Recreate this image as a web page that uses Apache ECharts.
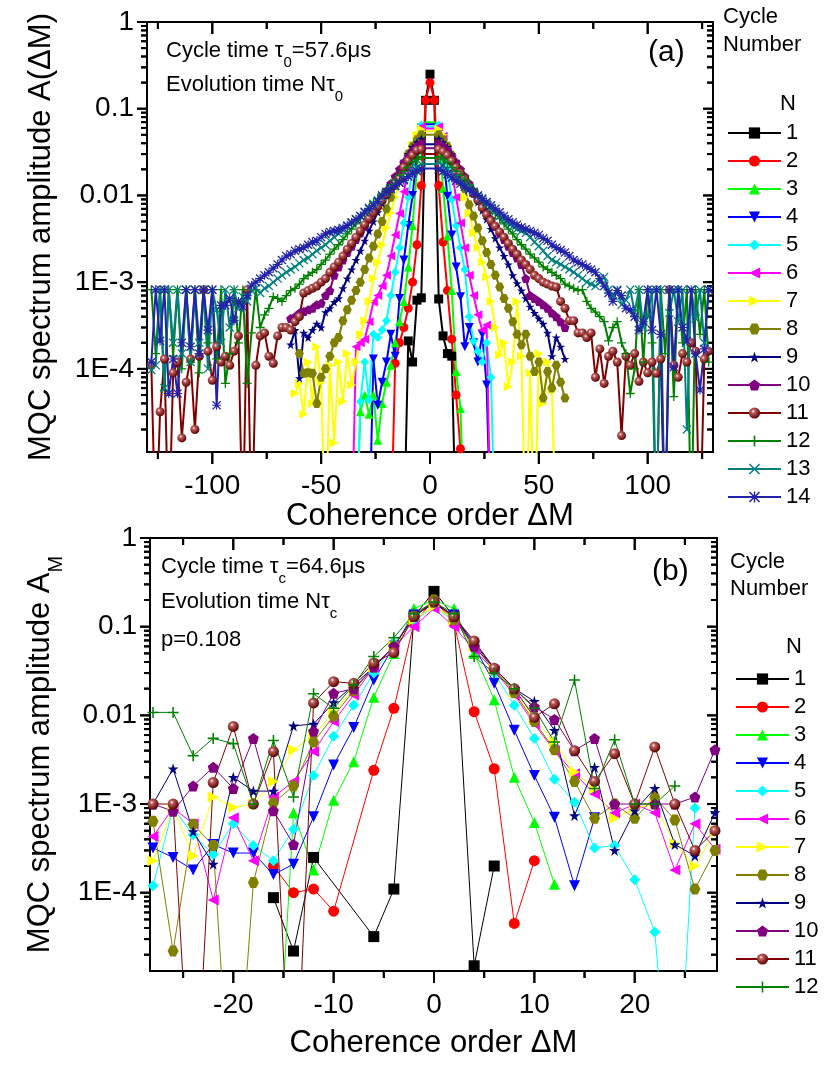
<!DOCTYPE html>
<html>
<head>
<meta charset="utf-8">
<script src="https://cdn.jsdelivr.net/npm/echarts@6/dist/echarts.min.js"></script>
<style>
html, body { margin: 0; padding: 0; background: #fff; }
#chart { width: 830px; height: 1075px; }
</style>
</head>
<body>
<div id="chart"></div>
<script>
const FONT = '"Liberation Sans", Arial, sans-serif';

// ---------- panel (a): wings listed from |dM| = 2 outward ----------
const centerA = [0.25, 0.2, 0.07, 0.066, 0.062, 0.059, 0.055, 0.05, 0.039, 0.035, 0.03, 0.027, 0.023, 0.0205];

const a1Left = [0.125, 6.6e-4, 6.2e-4, 1.2e-4, 2.1e-4, 1e-6];
const a1Right = [0.125, 6.4e-4, 2.4e-4, 1.5e-4, 1.4e-4, 1e-6];
const a2Left = [0.125, 0.013, 2.7e-3, 1e-3, 5e-4, 3e-4, 2e-4, 1.16e-4, 1e-6];
const a2Right = [0.125, 0.013, 2.9e-3, 8e-4, 2.2e-4, 5e-5, 1.2e-5, 1e-6];
const a3Left = [0.07, 0.055, 0.02, 4.5e-3, 1.5e-3, 6e-4, 3.5e-4, 2e-4, 1.1e-4, 7e-5, 4e-5, 1.5e-5, 5e-5, 3e-5, 5e-5, 3.2e-5, 1e-6];
const a3Right = [0.07, 0.055, 0.012, 3.4e-3, 8e-4, 9.3e-5, 3.5e-5, 1e-6];
const a4Left = [0.066, 0.06, 0.03, 0.01, 4.5e-3, 1.8e-3, 6.5e-4, 1.4e-4, 2.5e-4, 1.2e-4, 7e-5, 3.8e-5, 1.3e-4, 1e-6];
const a4Right = [0.066, 0.06, 0.03, 9.8e-3, 3.5e-3, 1.5e-3, 6.8e-4, 1.8e-4, 3e-4, 2e-4, 1.2e-4, 2.5e-4, 6.5e-5, 1e-6];
const a5Left = [0.062, 0.065, 0.04, 0.02, 9.5e-3, 4.8e-3, 2.5e-3, 1.3e-3, 7e-4, 3.6e-4, 2.8e-4, 2.3e-4, 2.5e-4, 4.4e-5, 1.2e-4, 4.2e-5, 1e-6];
const a5Right = [0.062, 0.065, 0.04, 0.02, 9e-3, 4.5e-3, 2.5e-3, 1.4e-3, 4e-4, 2.1e-4, 1.6e-4, 1.2e-4, 2e-4, 8e-5, 1e-6];
const a6Left = [0.059, 0.062, 0.048, 0.032, 0.02, 0.011, 6.2e-3, 3.5e-3, 2e-3, 1.2e-3, 9e-4, 7e-4, 5.9e-4, 3.5e-4, 2.2e-4, 2e-4, 1.8e-4, 1e-6];
const a6Right = [0.059, 0.062, 0.048, 0.032, 0.019, 9.5e-3, 4.8e-3, 2.5e-3, 1.2e-3, 7e-4, 4.2e-4, 2.8e-4, 3.2e-4, 1e-6];
const a7Left = [0.055, 0.058, 0.05, 0.038, 0.028, 0.02, 0.014, 9.5e-3, 6.3e-3, 4.2e-3, 2.7e-3, 1.7e-3, 1.1e-3, 6e-4, 3.6e-4, 2.5e-4,
  1.2e-4, 6.5e-5, 1.5e-4, 4.2e-5, 1.2e-4, 1.4e-5, 1.1e-4, 1e-6, 7e-5, 1.8e-4, 4e-5, 1.2e-4, 3e-5, 6.8e-5, 5.2e-5];
const a7Right = [0.055, 0.058, 0.05, 0.038, 0.028, 0.02, 0.014, 9.5e-3, 6.2e-3, 3.7e-3, 2.5e-3, 1.7e-3, 1.15e-3, 6e-4, 3e-4, 1.45e-4,
  2e-4, 6.2e-5, 1.2e-4, 6e-4, 1.4e-4, 1e-6, 9e-5, 1e-6, 1.5e-4, 4e-5, 1.2e-4, 5.7e-5, 1e-6];
const a8Left = [0.05, 0.05, 0.044, 0.037, 0.03, 0.023, 0.0175, 0.013, 9.5e-3, 7e-3, 5e-3, 3.6e-3, 2.6e-3, 1.9e-3, 1.4e-3, 1e-3,
  8e-4, 6.2e-4, 4.8e-4, 3.6e-4, 2.3e-4, 2e-4, 1.4e-4, 1e-4, 8e-5, 4e-5, 8.9e-5, 9e-5, 8.9e-5, 1.5e-4];
const a8Right = [0.05, 0.05, 0.044, 0.037, 0.029, 0.022, 0.0165, 0.012, 7.8e-3, 5.8e-3, 4.2e-3, 3e-3, 2.2e-3, 1.6e-3, 1.2e-3, 8.8e-4,
  6.5e-4, 5e-4, 3.5e-4, 2.5e-4, 1.9e-4, 2.5e-4, 1.4e-4, 9.3e-5, 1.2e-4, 4.6e-5, 9.3e-5, 6e-5, 1.1e-4, 7e-5, 4.6e-5];
const a9Left = [0.039, 0.045, 0.041, 0.036, 0.03, 0.025, 0.02, 0.016, 0.0128, 0.0102, 8.1e-3, 6.4e-3, 5e-3, 3.9e-3, 3e-3, 2.3e-3,
  1.8e-3, 1.4e-3, 1.1e-3, 8.5e-4, 6.5e-4, 5.9e-4, 5e-4, 4.5e-4, 3e-4, 3.3e-4, 2.8e-4, 2.3e-4, 2.6e-4, 7.8e-5, 2.8e-4, 1.9e-4];
const a9Right = [0.039, 0.045, 0.041, 0.036, 0.03, 0.025, 0.02, 0.016, 0.013, 0.0105, 8.4e-3, 6.7e-3, 5.3e-3, 4.1e-3, 3.2e-3, 2.5e-3,
  2e-3, 1.6e-3, 1.2e-3, 9.7e-4, 8e-4, 6.5e-4, 5.2e-4, 4.4e-4, 3.8e-4, 3.3e-4, 2.6e-4, 1.4e-4, 2.3e-4, 1.8e-4, 1.3e-4];
const a10Left = [0.035, 0.04, 0.037, 0.033, 0.028, 0.024, 0.02, 0.0165, 0.0137, 0.0113, 9.3e-3, 7.7e-3, 6.4e-3, 5.3e-3, 4.4e-3, 3.7e-3,
  3.1e-3, 2.6e-3, 2.2e-3, 1.8e-3, 1.5e-3, 1.2e-3, 8e-4, 7e-4, 5.7e-4, 5.5e-4, 5e-4, 4.8e-4, 4.6e-4, 4.4e-4, 4e-4, 3.8e-4];
const a10Right = [0.035, 0.04, 0.037, 0.033, 0.028, 0.024, 0.02, 0.0165, 0.0137, 0.0113, 9.3e-3, 7.7e-3, 6.4e-3, 5.3e-3, 4.4e-3, 3.7e-3,
  3.1e-3, 2.6e-3, 2.2e-3, 1.9e-3, 1.6e-3, 1.1e-3, 7e-4, 6.5e-4, 6e-4, 5.5e-4, 5e-4, 4.4e-4, 4e-4, 3.5e-4, 3e-4];
const a11Left = [0.03, 0.034, 0.033, 0.029, 0.025, 0.021, 0.0156, 0.014, 0.012, 0.0102, 8.7e-3, 7.4e-3, 6.3e-3, 5.4e-3, 4.6e-3, 3.9e-3,
  3.3e-3, 2.8e-3, 2.4e-3, 2e-3, 1.7e-3, 1.5e-3, 1.3e-3, 1.1e-3, 1e-3, 9e-4, 8.5e-4, 8e-4, 7.5e-4, 4e-4, 3.5e-4, 2.8e-4,
  3e-4, 3e-4, 2.4e-4, 1.16e-4, 1.4e-4, 2.6e-4, 2.4e-4, 1.1e-4, 1e-6, 8.2e-4, 1e-6, 2.4e-4, 1.6e-4, 1.1e-4, 1.4e-4, 1.2e-4,
  1.8e-4, 7.4e-5, 1.6e-4, 8.2e-4, 1.4e-4, 2e-5, 1.3e-4, 7e-5, 1.6e-5, 1.2e-4, 9e-5, 1e-6, 1.3e-4, 3.2e-5, 1e-6, 1.1e-4];
const a11Right = [0.03, 0.034, 0.032, 0.029, 0.025, 0.021, 0.018, 0.0155, 0.0125, 0.0105, 8.8e-3, 7.2e-3, 6e-3, 5.1e-3, 4.4e-3, 3.8e-3,
  3.3e-3, 2.8e-3, 2.4e-3, 2.1e-3, 1.8e-3, 1.6e-3, 1.4e-3, 1.2e-3, 1.1e-3, 1e-3, 9.5e-4, 9e-4, 8.8e-4, 6e-4, 5e-4, 3.6e-4,
  3.6e-4, 2.6e-4, 2.6e-4, 2.3e-4, 2.6e-4, 8e-5, 1.7e-4, 6.8e-5, 1.4e-4, 1.6e-4, 1.2e-4, 1.7e-5, 1.4e-4, 1.1e-4, 1.5e-4, 7.2e-5,
  1.2e-4, 9e-5, 1.2e-4, 8.9e-5, 1.3e-4, 1e-6, 8.2e-4, 1.1e-4, 8e-5, 1.5e-4, 1.2e-4, 2e-4, 1.6e-4, 1e-6, 1.3e-4, 1.6e-4];
const a12Left = [0.027, 0.028, 0.026, 0.024, 0.021, 0.019, 0.017, 0.015, 0.0133, 0.0118, 0.0104, 9.2e-3, 8.1e-3, 7.1e-3, 6.2e-3, 5.4e-3,
  4.7e-3, 4.1e-3, 3.6e-3, 3.1e-3, 2.7e-3, 2.4e-3, 2.1e-3, 1.8e-3, 1.6e-3, 1.4e-3, 1.3e-3, 1.2e-3, 1.1e-3, 9.5e-4, 8.5e-4, 8e-4,
  7e-4, 6e-4, 6.5e-4, 6.8e-4, 5e-4, 4.2e-4, 3e-4, 8.2e-4, 2.6e-4, 6.8e-5, 8.2e-4, 2e-4, 8.2e-4, 1.5e-4, 6.8e-5, 8.2e-4,
  1.3e-4, 8.2e-4, 2e-4, 8.2e-4, 9e-5, 8.2e-4, 1.2e-4, 8.2e-4, 1e-4, 8.2e-4, 1.4e-4, 8.2e-4, 5.7e-5, 8.2e-4, 1.5e-4, 8.2e-4];
const a12Right = [0.027, 0.028, 0.026, 0.024, 0.021, 0.019, 0.017, 0.015, 0.0133, 0.0118, 0.0104, 9.2e-3, 8.1e-3, 7.1e-3, 6.2e-3, 5.4e-3,
  4.7e-3, 4.1e-3, 3.6e-3, 3.1e-3, 2.7e-3, 2.4e-3, 2.1e-3, 1.9e-3, 1.7e-3, 1.5e-3, 1.4e-3, 1.3e-3, 1.2e-3, 1.1e-3, 9.5e-4, 9e-4,
  8.5e-4, 8e-4, 8.2e-4, 6e-4, 5e-4, 4.5e-4, 4e-4, 3.5e-4, 2.1e-4, 3e-4, 3.5e-4, 2e-4, 1.5e-4, 5.2e-5, 1e-4, 8.2e-4,
  1.2e-4, 8.2e-4, 2e-4, 1e-6, 8.2e-4, 1.5e-4, 8.2e-4, 4.8e-5, 8.2e-4, 2e-4, 8.2e-4, 1e-6, 8.2e-4, 2.5e-4, 8.2e-4, 1.2e-4];
const a13Left = [0.023, 0.023, 0.021, 0.019, 0.017, 0.0155, 0.014, 0.0128, 0.0117, 0.0107, 9.7e-3, 8.8e-3, 8e-3, 7.2e-3, 6.5e-3, 5.8e-3,
  5.3e-3, 4.8e-3, 4.4e-3, 4e-3, 3.6e-3, 3.3e-3, 3e-3, 2.7e-3, 2.5e-3, 2.3e-3, 2.1e-3, 1.9e-3, 1.8e-3, 1.65e-3, 1.5e-3, 1.4e-3,
  1.3e-3, 1.2e-3, 1.1e-3, 1e-3, 9e-4, 8.5e-4, 7.5e-4, 8.5e-4, 8e-4, 6e-4, 6.8e-4, 5e-4, 8.2e-4, 3e-4, 8.2e-4, 2e-4,
  4.8e-4, 8.2e-4, 1e-4, 8.2e-4, 2e-4, 8.2e-4, 1.2e-4, 8.2e-4, 1.5e-4, 8.2e-4, 2e-4, 8.2e-4, 6e-5, 8.2e-4, 1.1e-4, 9.7e-5];
const a13Right = [0.023, 0.024, 0.022, 0.02, 0.018, 0.0163, 0.0148, 0.0134, 0.0121, 0.011, 9.9e-3, 8.9e-3, 8e-3, 7.2e-3, 6.5e-3, 5.8e-3,
  5.3e-3, 4.8e-3, 4.4e-3, 4.1e-3, 3.9e-3, 3.7e-3, 3.3e-3, 2.9e-3, 2.6e-3, 2.3e-3, 2e-3, 1.8e-3, 1.7e-3, 1.6e-3, 1.5e-3, 1.4e-3,
  1.3e-3, 1.2e-3, 1.1e-3, 1e-3, 9.5e-4, 9e-4, 1e-3, 1.15e-3, 8.2e-4, 7e-4, 8.2e-4, 5.5e-4, 6.2e-4, 8.2e-4, 4.5e-4, 8.2e-4,
  3e-4, 4e-4, 8.2e-4, 1e-6, 8.2e-4, 1e-6, 4.4e-4, 8.2e-4, 3.5e-4, 8.2e-4, 2e-5, 8.2e-4, 3.8e-4, 8.2e-4, 2e-4, 8.2e-4];
const a14Left = [0.0205, 0.02, 0.019, 0.018, 0.0165, 0.015, 0.014, 0.013, 0.012, 0.011, 0.01, 8.5e-3, 7.7e-3, 7e-3, 6.4e-3, 5.8e-3,
  5.3e-3, 4.9e-3, 4.5e-3, 4.2e-3, 4e-3, 3.9e-3, 3.8e-3, 3.6e-3, 3.3e-3, 3e-3, 2.9e-3, 2.7e-3, 2.5e-3, 2.4e-3, 2.3e-3, 2.1e-3,
  2e-3, 1.8e-3, 1.6e-3, 1.45e-3, 1.3e-3, 1.2e-3, 1.1e-3, 1e-3, 9.2e-4, 7e-4, 5.2e-4, 6e-4, 3.6e-4, 6.5e-4, 5.4e-4, 5.4e-4,
  3.8e-5, 8.2e-4, 2.8e-4, 8.2e-4, 1.5e-4, 8.2e-4, 1.8e-4, 8.2e-4, 2e-4, 5.2e-5, 1.3e-4, 5.2e-5, 8.2e-4, 2.1e-4, 8.2e-4, 1.2e-4];
const a14Right = [0.0205, 0.02, 0.019, 0.0175, 0.016, 0.0148, 0.0136, 0.0125, 0.0116, 0.0108, 0.01, 9.2e-3, 8.4e-3, 7.7e-3, 7e-3, 6.4e-3,
  5.8e-3, 5.3e-3, 4.9e-3, 4.6e-3, 4.3e-3, 4.1e-3, 3.9e-3, 3.7e-3, 3.5e-3, 3.2e-3, 3e-3, 2.7e-3, 2.5e-3, 2.35e-3, 2.2e-3, 2e-3,
  1.8e-3, 1.7e-3, 1.6e-3, 1.5e-3, 1.4e-3, 1.3e-3, 1.1e-3, 9e-4, 7.5e-4, 6e-4, 8e-4, 7e-4, 5e-4, 4.8e-4, 4e-4, 2.8e-4,
  3.5e-4, 8.2e-4, 2.8e-4, 8.2e-4, 2.5e-4, 1e-6, 8.2e-4, 1.05e-4, 8.2e-4, 3e-4, 2.1e-4, 8.2e-4, 1.5e-4, 5.7e-5, 1.7e-4, 8.2e-4];

const leftA = [a1Left, a2Left, a3Left, a4Left, a5Left, a6Left, a7Left, a8Left, a9Left, a10Left, a11Left, a12Left, a13Left, a14Left];
const rightA = [a1Right, a2Right, a3Right, a4Right, a5Right, a6Right, a7Right, a8Right, a9Right, a10Right, a11Right, a12Right, a13Right, a14Right];

// ---------- panel (b): values at dM = -28, -26, ..., 28 ----------
const ordersB = [-28, -26, -24, -22, -20, -18, -16, -14, -12, -10, -8, -6, -4, -2, 0, 2, 4, 6, 8, 10, 12, 14, 16, 18, 20, 22, 24, 26, 28];
const b1 = [null, null, null, null, null, null, 8.8e-5, 2.2e-5, 2.5e-4, null, null, 3.2e-5, 1.1e-4, 0.13, 0.25, 0.13, 1.5e-5, 2e-4, null, null, null, null, null, null, null, null, null, null, null];
const b2 = [null, null, null, null, null, null, 2e-4, 1e-4, 1.1e-4, 6.2e-5, null, 2.4e-3, 0.012, 0.11, 0.2, 0.11, 0.011, 2.5e-3, 4.5e-5, 2.3e-4, null, null, null, null, null, null, null, null, null];
const b3 = [null, null, null, null, null, null, 1e-7, 8e-4, 1.8e-4, 1.1e-3, 3e-3, 0.016, 0.05, 0.16, 0.2, 0.16, 0.05, 0.015, 2e-3, 6.2e-4, 1.25e-4, null, null, null, null, null, null, null, null];
const b4 = [3.2e-4, 2.5e-4, 1.8e-4, 3.5e-4, 2.8e-4, 2.8e-4, 1.6e-4, 2.1e-4, 7.2e-4, 2.75e-3, 7.3e-3, 0.025, 0.06, 0.135, 0.18, 0.135, 0.06, 0.023, 6.8e-3, 2.1e-3, 7.1e-4, 1.2e-4, 7e-4, null, null, null, null, null, null];
const b5 = [1.2e-4, 9e-4, 4.5e-4, 2.7e-4, 6e-4, 3.4e-4, 2.3e-4, 5.2e-4, 2.1e-3, 5.8e-3, 0.013, 0.03, 0.065, 0.115, 0.17, 0.115, 0.065, 0.03, 0.013, 5.5e-3, 1.9e-3, 1.05e-3, 3.2e-4, 3.4e-4, 1.4e-4, 3.6e-5, 1e-7, 9e-4, null];
const b6 = [4.3e-4, 9e-4, 6e-4, 8.3e-5, 7e-4, 2.3e-4, 1.2e-3, 1.8e-3, 3.9e-3, 8.5e-3, 0.017, 0.035, 0.06, 0.1, 0.16, 0.1, 0.055, 0.032, 0.017, 8e-3, 4e-3, 2.2e-3, 1.3e-3, 7.9e-4, 1e-3, 8e-4, 1.8e-4, 6e-4, 3.1e-4];
const b7 = [2.3e-4, 9e-4, 2.6e-4, 1.2e-3, 9.2e-4, 1e-3, 1.8e-3, 4.1e-3, 6e-3, 0.0108, 0.02, 0.035, 0.06, 0.12, 0.17, 0.12, 0.06, 0.033, 0.018, 9e-3, 5e-3, 2.3e-3, 1.5e-3, 6.9e-4, 9e-4, 1e-3, 3.6e-4, 2e-4, 5e-4];
const b8 = [6.4e-4, 2.2e-5, 5.9e-4, 3.4e-4, 1e-7, 1.3e-4, 1.03e-3, 1.6e-3, 5e-3, 9.8e-3, 0.019, 0.035, 0.06, 0.13, 0.2, 0.12, 0.06, 0.033, 0.018, 8.5e-3, 4.1e-3, 1.8e-3, 6.9e-4, 1e-3, 6.9e-4, 1.2e-3, 6.6e-4, 1.1e-4, 3e-4];
const b9 = [1e-3, 2.5e-3, 4.9e-4, 2.1e-4, 2e-3, 1.4e-3, 1.4e-3, 7.6e-3, 8e-3, 0.0139, 0.022, 0.035, 0.06, 0.13, 0.19, 0.13, 0.065, 0.034, 0.02, 0.0144, 6.8e-3, 7.4e-4, 2.6e-3, 3e-4, 8.4e-4, 1.5e-3, 3.5e-4, 2.6e-4, 8e-4];
const b10 = [1e-3, 8.3e-4, 1.6e-3, 2.6e-3, 1.5e-3, 5.5e-3, 8.4e-4, 3.5e-4, 6.6e-3, 0.0177, 0.02, 0.035, 0.06, 0.13, 0.19, 0.13, 0.06, 0.034, 0.02, 0.0125, 9e-3, 4e-3, 5.5e-3, 1e-3, 1e-3, 1e-3, 1e-3, 1.2e-3, 4.1e-3];
const b11 = [1e-3, 1e-3, 1e-7, 1.75e-3, 7.5e-3, 1e-3, 3.9e-3, 1e-7, 0.0138, 0.024, 0.023, 0.039, 0.051, 0.13, 0.19, 0.13, 0.069, 0.034, 0.02, 9.5e-3, 0.0135, 4e-3, 1.8e-3, 3.7e-3, 1e-3, 4.4e-3, 1e-3, 3e-4, 5e-4];
const b12 = [0.0108, 0.0108, 3.5e-3, 5.5e-3, 4.8e-3, 1e-3, 5.2e-3, 1.2e-3, 0.0175, 0.012, 0.022, 0.046, 0.075, 0.14, 0.19, 0.14, 0.046, 0.03, 0.02, 0.012, 5e-3, 0.025, 1.5e-3, 5.3e-3, 1e-3, 1e-3, 1.6e-3, null, null];
const valuesB = [b1, b2, b3, b4, b5, b6, b7, b8, b9, b10, b11, b12];

// ---------- axes ----------
const xRangeA = [-130, 130];
const yRangeA = [1.1e-5, 1];
const xRangeB = [-28.3, 28.2];
const yRangeB = [1.31e-5, 1];
const xTicksA = [-125, -100, -75, -50, -25, 0, 25, 50, 75, 100, 125];
const xTicksB = [-25, -20, -15, -10, -5, 0, 5, 10, 15, 20, 25];
const yDecades = [-5, -4, -3, -2, -1, 0];
const yDecadeLabels = ['1E-5', '1E-4', '1E-3', '0.01', '0.1', '1'];

// ---------- styles ----------
const colors = ['#000000', '#ff0000', '#00ff00', '#0000ff', '#00ffff', '#ff00ff', '#ffff00', '#808000',
  '#000080', '#800080', '#800000', '#008000', '#008080', '#2222aa'];
const sphere = {
  type: 'radial', x: 0.38, y: 0.35, r: 0.65,
  colorStops: [{ offset: 0, color: '#ffffff' }, { offset: 0.25, color: '#c06060' }, { offset: 1, color: '#5a0000' }]
};
const symbols = [
  'rect', 'circle', 'triangle',
  'path://M0,0L10,0L5,9Z',
  'diamond',
  'path://M0,5L9,0L9,10Z',
  'path://M9,5L0,0L0,10Z',
  'path://M2.5,0L7.5,0L10,4.33L7.5,8.66L2.5,8.66L0,4.33Z',
  'path://M5,0L6.18,3.62L10,3.62L6.91,5.86L8.09,9.51L5,7.27L1.91,9.51L3.09,5.86L0,3.62L3.82,3.62Z',
  'path://M5,0L10,3.63L8.09,9.51L1.91,9.51L0,3.63Z',
  'circle',
  'path://M4.3,0L5.7,0L5.7,4.3L10,4.3L10,5.7L5.7,5.7L5.7,10L4.3,10L4.3,5.7L0,5.7L0,4.3L4.3,4.3Z',
  'path://M1,0L5,4L9,0L10,1L6,5L10,9L9,10L5,6L1,10L0,9L4,5L0,1Z',
  'path://M4.4,0L5.6,0L5.6,4.4L10,4.4L10,5.6L5.6,5.6L5.6,10L4.4,10L4.4,5.6L0,5.6L0,4.4L4.4,4.4Z M1,0L5,4L9,0L10,1L6,5L10,9L9,10L5,6L1,10L0,9L4,5L0,1Z'
];

function fillOf(i) { return i === 10 ? sphere : colors[i]; }

function buildA(i) {
  const out = [];
  const L = leftA[i], R = rightA[i];
  for (let m = -128; m <= 128; m += 2) {
    let v;
    if (m === 0) v = centerA[i];
    else if (m < 0) v = L[-m / 2 - 1];
    else v = R[m / 2 - 1];
    if (v === undefined || v === null) continue;
    if (i >= 2 && Math.abs(m) <= 2) out.push({ value: [m, v], symbol: 'none' });
    else out.push([m, v]);
  }
  return out;
}

function buildB(i) {
  const out = [];
  ordersB.forEach((m, k) => { if (valuesB[i][k] !== null) out.push([m, valuesB[i][k]]); });
  return out;
}

function yLabel(v) {
  const lg = Math.log10(v), e = Math.round(lg);
  if (Math.abs(lg - e) > 1e-6) return '';
  const k = yDecades.indexOf(e);
  return k < 0 ? '' : yDecadeLabels[k];
}

const tickFont = { fontSize: 28, color: '#000', fontFamily: FONT };
const nameFont = { fontSize: 31, color: '#000', fontFamily: FONT };

const seriesA = colors.map((c, i) => ({
  name: 'a' + (i + 1), type: 'line', xAxisIndex: 0, yAxisIndex: 0,
  data: buildA(i), symbol: symbols[i], symbolSize: 9,
  lineStyle: { color: c, width: 2 }, itemStyle: { color: fillOf(i) },
  emphasis: { disabled: true }, clip: true, silent: true
}));
const seriesB = valuesB.map((vals, i) => ({
  name: 'b' + (i + 1), type: 'line', xAxisIndex: 1, yAxisIndex: 1,
  data: buildB(i), symbol: symbols[i], symbolSize: 11,
  lineStyle: { color: colors[i], width: 1 }, itemStyle: { color: fillOf(i) },
  emphasis: { disabled: true }, clip: true, silent: true
}));

const subStyle = { fontSize: 15, fontFamily: FONT, color: '#000', lineHeight: 14, padding: [15, 0, 0, 0], verticalAlign: 'top' };
const mainStyle = { fontSize: 22, fontFamily: FONT, color: '#000', lineHeight: 24, verticalAlign: 'top' };
function note(id, left, top, text) {
  return { id, type: 'text', left, top, silent: true, style: { text, rich: { m: mainStyle, s: subStyle }, fill: '#000' } };
}
function plain(id, left, top, text, size) {
  return { id, type: 'text', left, top, silent: true, style: { text, fontSize: size, fontFamily: FONT, fill: '#000' } };
}

const legendBase = {
  orient: 'vertical', itemWidth: 53, itemHeight: 14, itemGap: 6, selectedMode: false,
  textStyle: { fontSize: 22, fontFamily: FONT, color: '#000' },
  formatter: n => n.slice(1)
};

const labelsGraphic = [
  note('t1', 166, 40, '{m|Cycle time τ}{s|0}{m|=57.6μs}'),
  note('t2', 166, 74, '{m|Evolution time Nτ}{s|0}'),
  plain('t3', 648, 38, '(a)', 30),
  plain('t4', 723, 6, 'Cycle', 22),
  plain('t5', 723, 34, 'Number', 22),
  plain('t6', 780, 93, 'N', 22),
  note('t7', 161, 556, '{m|Cycle time τ}{s|c}{m|=64.6μs}'),
  note('t8', 161, 591, '{m|Evolution time Nτ}{s|c}'),
  plain('t9', 161, 629, 'p=0.108', 22),
  plain('t10', 652, 557, '(b)', 30),
  plain('t11', 730, 551, 'Cycle', 22),
  plain('t12', 730, 578, 'Number', 22),
  plain('t13', 786, 636, 'N', 22)
];

const option = {
  animation: false,
  backgroundColor: '#fff',
  textStyle: { fontFamily: FONT },
  grid: [
    { left: 147, top: 22, width: 566, height: 430, show: true, borderColor: '#000', borderWidth: 2, backgroundColor: 'transparent' },
    { left: 150, top: 538, width: 567, height: 433, show: true, borderColor: '#000', borderWidth: 2, backgroundColor: 'transparent' }
  ],
  xAxis: [
    { gridIndex: 0, type: 'value', min: xRangeA[0], max: xRangeA[1],
      axisLine: { show: false }, axisTick: { show: false }, splitLine: { show: false },
      axisLabel: Object.assign({ margin: 20, formatter: v => (v % 50 === 0 ? String(v) : '') }, tickFont),
      name: 'Coherence order ΔM', nameLocation: 'middle', nameGap: 44, nameTextStyle: nameFont },
    { gridIndex: 1, type: 'value', min: xRangeB[0], max: xRangeB[1],
      axisLine: { show: false }, axisTick: { show: false }, splitLine: { show: false },
      axisLabel: Object.assign({ margin: 20, formatter: v => (v % 10 === 0 ? String(v) : '') }, tickFont),
      name: 'Coherence order ΔM', nameLocation: 'middle', nameGap: 57, nameTextStyle: nameFont }
  ],
  yAxis: [
    { gridIndex: 0, type: 'log', logBase: 10, min: yRangeA[0], max: yRangeA[1],
      axisLine: { show: false }, axisTick: { show: false }, splitLine: { show: false },
      axisLabel: Object.assign({ margin: 13, formatter: yLabel }, tickFont),
      name: 'MQC spectrum amplitude A(ΔM)', nameLocation: 'middle', nameGap: 90, nameTextStyle: nameFont },
    { gridIndex: 1, type: 'log', logBase: 10, min: yRangeB[0], max: yRangeB[1],
      axisLine: { show: false }, axisTick: { show: false }, splitLine: { show: false },
      axisLabel: Object.assign({ margin: 13, formatter: yLabel }, tickFont),
      name: '{m|MQC spectrum amplitude A}{s|M}', nameLocation: 'middle', nameGap: 80,
      nameTextStyle: Object.assign({
        rich: {
          m: { fontSize: 31, fontFamily: FONT, color: '#000', lineHeight: 34, verticalAlign: 'top' },
          s: { fontSize: 20, fontFamily: FONT, color: '#000', lineHeight: 16, padding: [22, 0, 0, 0], verticalAlign: 'top' }
        }
      }, nameFont) }
  ],
  legend: [
    Object.assign({ data: seriesA.map(s => s.name), left: 722, top: 117 }, legendBase),
    Object.assign({ data: seriesB.map(s => s.name), left: 730, top: 663 }, legendBase)
  ],
  graphic: labelsGraphic,
  series: seriesA.concat(seriesB)
};

const chart = echarts.init(document.getElementById('chart'), null, { renderer: 'canvas' });
try {
  chart.setOption(option);
} catch (e) {
  // keep going: the frame ticks below are drawn separately
}

// frame ticks on all four sides, positioned through the axes' own scales
function yTickValues(range) {
  const d = [];
  yDecades.forEach(e => {
    for (let k = 1; k <= 9; k++) {
      const v = k * Math.pow(10, e);
      if (v >= range[0] * 0.999 && v <= range[1] * 1.001) d.push({ v: v, major: k === 1 });
    }
  });
  return d;
}
function frameSegments(idx, xTicks, majorStep, xr, yr) {
  const segs = [];
  const P = (x, y) => chart.convertToPixel({ gridIndex: idx }, [x, y]);
  xTicks.forEach(v => {
    const len = v % majorStep === 0 ? 12 : 7;
    const b = P(v, yr[0]), t = P(v, yr[1]);
    segs.push([b[0], b[1], b[0], b[1] + len], [t[0], t[1], t[0], t[1] + len]);
  });
  yTickValues(yr).forEach(d => {
    const len = d.major ? 10 : 6;
    const l = P(xr[0], d.v), r = P(xr[1], d.v);
    segs.push([l[0] - len, l[1], l[0], l[1]], [r[0] - len, r[1], r[0], r[1]]);
  });
  return segs;
}

let ticksDone = false;
function drawTicks() {
  if (ticksDone) return;
  let segs;
  try {
    segs = frameSegments(0, xTicksA, 50, xRangeA, yRangeA).concat(frameSegments(1, xTicksB, 10, xRangeB, yRangeB));
  } catch (e) { return; }
  if (!segs.length || segs.some(s => s.some(n => !isFinite(n)))) return;
  ticksDone = true;
  const tickStyle = { stroke: '#000', lineWidth: 2 };
  // 1) through the graphic component (ticks painted first, under everything else)
  try {
    const els = segs.map((s, i) => ({
      id: 'tick' + i, type: 'line', z: -10, silent: true,
      shape: { x1: s[0], y1: s[1], x2: s[2], y2: s[3] }, style: tickStyle
    }));
    chart.setOption({ graphic: labelsGraphic.concat(els) });
  } catch (e) { /* fall through to the direct layer */ }
  // 2) directly on the render layer as a fallback
  try {
    const Ctor = echarts.graphic && echarts.graphic.Line;
    if (typeof Ctor === 'function') {
      const zr = chart.getZr();
      segs.forEach(s => zr.add(new Ctor({
        shape: { x1: s[0], y1: s[1], x2: s[2], y2: s[3] },
        style: { stroke: '#000', lineWidth: 2 }, z: -10, silent: true
      })));
      zr.refreshImmediately();
    }
  } catch (e) { /* decorative only */ }
}
drawTicks();
if (!ticksDone) {
  setTimeout(drawTicks, 0);
  if (window.requestAnimationFrame) requestAnimationFrame(drawTicks);
  chart.on('finished', drawTicks);
}
</script>
</body>
</html>
